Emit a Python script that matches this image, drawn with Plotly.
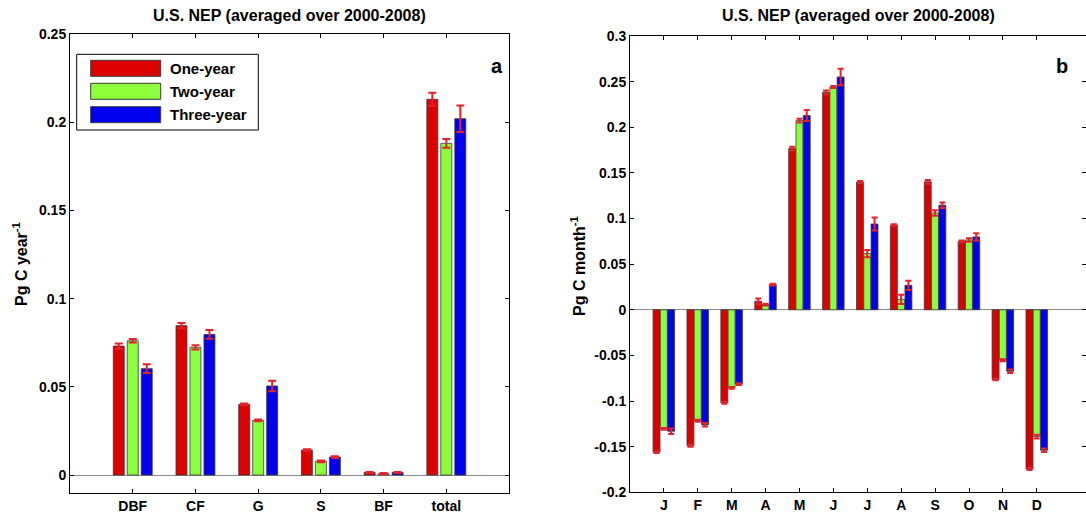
import plotly.graph_objects as go

# ---------------- data ----------------
series_names = ["One-year", "Two-year", "Three-year"]
series_colors = ["#dc0000", "#8cff3c", "#0000ee"]

cover_types = ["DBF", "CF", "G", "S", "BF", "total"]
annual_one = [0.0731, 0.0847, 0.0401, 0.0142, 0.0015, 0.2130]
annual_two = [0.0761, 0.0724, 0.0310, 0.0078, 0.0008, 0.1880]
annual_three = [0.0603, 0.0797, 0.0505, 0.0102, 0.0015, 0.2020]
annual_one_err = [0.0015, 0.0015, 0.0005, 0.0004, 0.0003, 0.0037]
annual_two_err = [0.0010, 0.0012, 0.0005, 0.0005, 0.0003, 0.0025]
annual_three_err = [0.0025, 0.0025, 0.0030, 0.0005, 0.0003, 0.0075]

months = ["J", "F", "M", "A", "M", "J", "J", "A", "S", "O", "N", "D"]
monthly_one = [-0.156, -0.149, -0.102, 0.0093, 0.1766, 0.2383, 0.1400, 0.0928, 0.1402, 0.0750, -0.0763, -0.1745]
monthly_two = [-0.1305, -0.1216, -0.0855, 0.0057, 0.2073, 0.2441, 0.0616, 0.0114, 0.1060, 0.0765, -0.0553, -0.1390]
monthly_three = [-0.1330, -0.1260, -0.0814, 0.0276, 0.2128, 0.2551, 0.0940, 0.0268, 0.1145, 0.0798, -0.0674, -0.1539]
monthly_one_err = [0.001, 0.001, 0.001, 0.003, 0.002, 0.002, 0.001, 0.001, 0.002, 0.001, 0.001, 0.001]
monthly_two_err = [0.001, 0.001, 0.001, 0.001, 0.002, 0.001, 0.004, 0.005, 0.003, 0.002, 0.001, 0.002]
monthly_three_err = [0.003, 0.002, 0.001, 0.001, 0.006, 0.009, 0.007, 0.005, 0.003, 0.004, 0.002, 0.002]

title_text = "U.S. NEP (averaged over 2000-2008)"
annual_ticks = [0, 0.05, 0.1, 0.15, 0.2, 0.25]
monthly_ticks = [-0.2, -0.15, -0.1, -0.05, 0, 0.05, 0.1, 0.15, 0.2, 0.25, 0.3]

# ---------------- figure ----------------
W, H = 1086, 516
FONT = "Liberation Sans, Arial, Helvetica, sans-serif"
ERR_COLOR = "#e8202a"


def px(x):
    return x / W


def py(y):
    return 1 - y / H


fig = go.Figure()

annual_pos = list(range(1, len(cover_types) + 1))
month_pos = list(range(1, len(months) + 1))

annual_vals = [annual_one, annual_two, annual_three]
annual_errs = [annual_one_err, annual_two_err, annual_three_err]
monthly_vals = [monthly_one, monthly_two, monthly_three]
monthly_errs = [monthly_one_err, monthly_two_err, monthly_three_err]

a_offsets = [-0.31, -0.087, 0.136]
a_width = 0.175
m_offsets = [-0.32, -0.105, 0.11]
m_width = 0.205

for i in range(3):
    fig.add_trace(go.Bar(
        x=annual_pos, y=annual_vals[i], name=series_names[i],
        marker=dict(color=series_colors[i], line=dict(color="#3a3a3a", width=0.8)),
        width=a_width, offset=a_offsets[i],
        error_y=dict(type="data", array=annual_errs[i], color=ERR_COLOR, thickness=2, width=4),
        xaxis="x", yaxis="y", showlegend=False,
    ))
for i in range(3):
    fig.add_trace(go.Bar(
        x=month_pos, y=monthly_vals[i], name=series_names[i],
        marker=dict(color=series_colors[i], line=dict(color="#3a3a3a", width=0.8)),
        width=m_width, offset=m_offsets[i],
        error_y=dict(type="data", array=monthly_errs[i], color=ERR_COLOR, thickness=2, width=3),
        xaxis="x2", yaxis="y2", showlegend=False,
    ))

axis_common = dict(
    showline=True, linecolor="black", linewidth=1, mirror="ticks",
    ticks="inside", ticklen=4, tickcolor="black", showgrid=False, automargin=False,
    tickfont=dict(family=FONT, size=14, color="black", weight="bold"),
)

fig.update_layout(
    width=W, height=H, autosize=False,
    margin=dict(l=0, r=0, t=0, b=0, pad=0, autoexpand=False),
    paper_bgcolor="white", plot_bgcolor="white",
    barmode="group",
    showlegend=False,
    xaxis=dict(domain=[px(70), px(509)], range=[0, 7], tickvals=annual_pos,
               ticktext=cover_types, zeroline=False, anchor="y", **axis_common),
    yaxis=dict(domain=[py(492.7), py(34)], range=[-0.01, 0.25], tickvals=annual_ticks,
               ticktext=[f"{v:g}" for v in annual_ticks], zeroline=True,
               zerolinecolor="#8a8a8a", zerolinewidth=1.2, anchor="x", **axis_common),
    xaxis2=dict(domain=[px(630), 1.0], range=[0, 13.45], tickvals=month_pos,
                ticktext=months, zeroline=False, anchor="y2", **axis_common),
    yaxis2=dict(domain=[py(492.3), py(36)], range=[-0.2, 0.3], tickvals=monthly_ticks,
                ticktext=[f"{v:g}" for v in monthly_ticks], zeroline=True,
                zerolinecolor="#8a8a8a", zerolinewidth=1.2, anchor="x2", **axis_common),
)

annotations = []
title_font = dict(family=FONT, size=16, color="black", weight="bold")
annotations.append(dict(text=title_text, x=px(289.5), y=py(15), xref="paper", yref="paper",
                        showarrow=False, font=title_font, xanchor="center", yanchor="middle"))
annotations.append(dict(text=title_text, x=px(858), y=py(15), xref="paper", yref="paper",
                        showarrow=False, font=title_font, xanchor="center", yanchor="middle"))
annotations.append(dict(text="Pg C year<sup>-1</sup>", x=px(20), y=py(264), xref="paper", yref="paper",
                        showarrow=False, textangle=-90, font=title_font, xanchor="center", yanchor="middle"))
annotations.append(dict(text="Pg C month<sup>-1</sup>", x=px(578), y=py(266), xref="paper", yref="paper",
                        showarrow=False, textangle=-90, font=title_font, xanchor="center", yanchor="middle"))
annotations.append(dict(text="a", x=px(497), y=py(66), xref="paper", yref="paper", showarrow=False,
                        font=dict(family=FONT, size=20, color="black", weight="bold"),
                        xanchor="center", yanchor="middle"))
annotations.append(dict(text="b", x=px(1062), y=py(66), xref="paper", yref="paper", showarrow=False,
                        font=dict(family=FONT, size=20, color="black", weight="bold"),
                        xanchor="center", yanchor="middle"))

# manual legend (large swatches like the original)
shapes = [dict(type="rect", xref="paper", yref="paper", x0=px(76.7), x1=px(258.3),
               y0=py(130), y1=py(54.3), line=dict(color="black", width=1), fillcolor="white")]
row_tops = [60.3, 83.3, 106.7]
for i, name in enumerate(series_names):
    t = row_tops[i]
    shapes.append(dict(type="rect", xref="paper", yref="paper", x0=px(90.7), x1=px(160.7),
                       y0=py(t + 16), y1=py(t), line=dict(color="#3a3a3a", width=1),
                       fillcolor=series_colors[i]))
    annotations.append(dict(text=name, x=px(168), y=py(t + 8), xref="paper", yref="paper",
                            showarrow=False, xanchor="left", yanchor="middle",
                            font=dict(family=FONT, size=15, color="black", weight="bold")))

fig.update_layout(annotations=annotations, shapes=shapes)

fig.write_html(
    "out.html",
    config={"displayModeBar": False, "responsive": False},
    post_script="document.body.style.margin='0';document.body.style.overflow='hidden';",
)
